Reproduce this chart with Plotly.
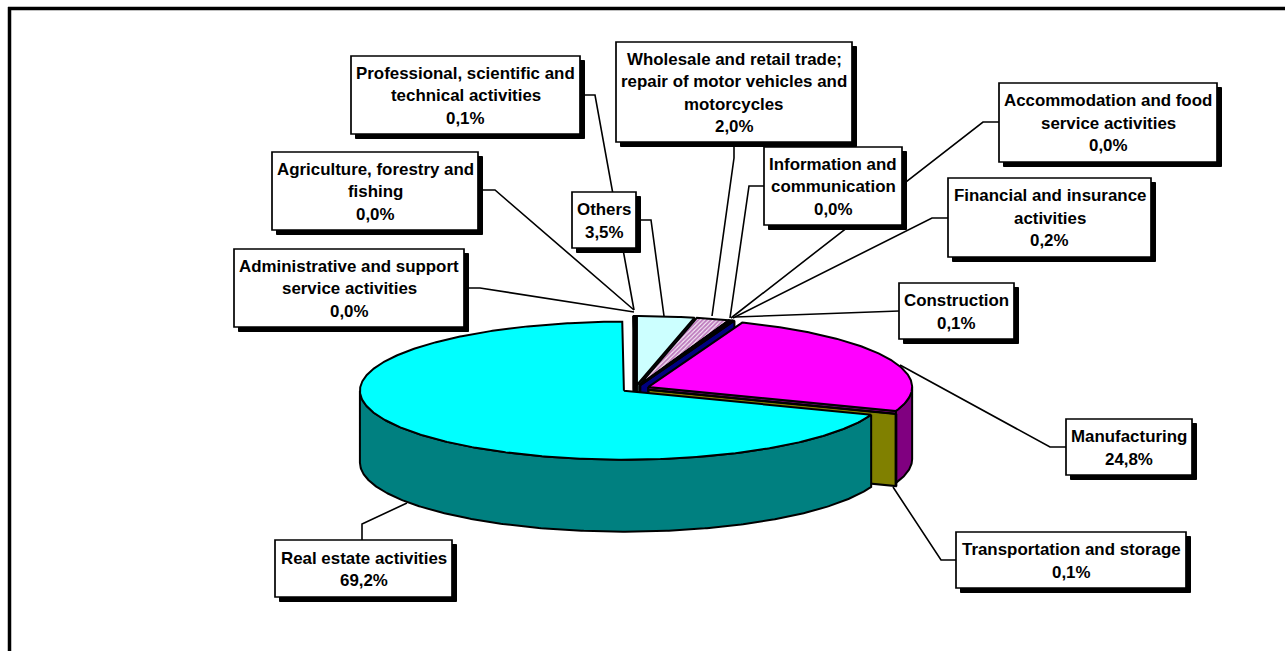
import math
import plotly.graph_objects as go

# ---- data (clockwise from 12 o'clock) ----
categories = ["Others", "Wholesale and retail trade; repair of motor vehicles and motorcycles",
              "Information and communication", "Accommodation and food service activities",
              "Financial and insurance activities", "Construction", "Manufacturing",
              "Transportation and storage", "Real estate activities",
              "Administrative and support service activities",
              "Agriculture, forestry and fishing",
              "Professional, scientific and technical activities"]
values = [3.5, 2.0, 0.0, 0.0, 0.2, 0.1, 24.8, 0.1, 69.2, 0.0, 0.0, 0.1]

label_lines = [["Others"],
               ["Wholesale and retail trade;", "repair of motor vehicles and", "motorcycles"],
               ["Information and", "communication"],
               ["Accommodation and food", "service activities"],
               ["Financial and insurance", "activities"],
               ["Construction"],
               ["Manufacturing"],
               ["Transportation and storage"],
               ["Real estate activities"],
               ["Administrative and support", "service activities"],
               ["Agriculture, forestry and", "fishing"],
               ["Professional, scientific and", "technical activities"]]

# ---- styles ----
top_colors = ["#CCFFFF", "#FFFFFF", "#000080", "#000080", "#000080", "#808080",
              "#FF00FF", "#808000", "#00FFFF", "#000080", "#000080", "#000080"]
side_colors = ["#669999", "#000080", "#000080", "#000080", "#000080", "#000080",
               "#800080", "#808000", "#008080", "#000040", "#000040", "#000040"]
hatched = {1}
draw_order = [0, 1, 2, 3, 4, 5, 6, 7, 11, 10, 9, 8]

# ---- geometry of the page ----
CX, CY, RX, RY, DEPTH = 635.4, 388.6, 264, 69, 72
EXPLODE_X, EXPLODE_Y = 14, 3.6
EDGE = 2
SHADOW = 4.5
LINE_H = 22.5
TEXT_DY = 0.8
FONT = dict(family="Liberation Sans, Arial, sans-serif", size=16.9, color="#000000")

# box left, top, right, bottom per category
boxes = [(572, 192, 636, 248), (616, 42, 852, 142), (764, 147, 902, 225),
         (999, 83, 1217, 162), (948, 178, 1151, 257), (899, 283, 1014, 339),
         (1066, 419, 1192, 475), (956, 532, 1186, 588), (275, 540, 452, 597),
         (234, 249, 464, 327), (272, 152, 478, 230), (351, 56, 580, 134)]
# leader polylines per category
leaders = [[(636, 220), (651, 220), (664, 316)],
           [(734, 142), (734, 158), (712, 316)],
           [(764, 186), (749, 186), (730, 318)],
           [(999, 122), (983, 122), (731, 318)],
           [(948, 218), (932, 218), (733, 318)],
           [(899, 311), (735, 317)],
           [(1066, 447), (1050, 447), (900, 365)],
           [(956, 560), (941, 560), (893, 487)],
           [(362, 540), (362, 524), (407, 503)],
           [(464, 288), (480, 288), (634, 312)],
           [(478, 190), (495, 190), (634, 310)],
           [(580, 95), (595, 95), (634, 310)]]

fig = go.Figure()


def poly(xs, ys, color, pattern=False):
    kw = dict(x=xs + xs[:1], y=ys + ys[:1], mode="lines", fill="toself",
              line=dict(color="#000000", width=EDGE), hoverinfo="skip", showlegend=False)
    if pattern:
        kw["fillpattern"] = dict(shape="/", fgcolor="#800080", bgcolor="#FFFFFF",
                                 size=3, solidity=0.7)
    else:
        kw["fillcolor"] = color
    fig.add_trace(go.Scatter(**kw))


# angular extents from the values
total = sum(values)
extents = []
acc = 0.0
for v in values:
    extents.append((acc / total * 360, (acc + v) / total * 360))
    acc += v


def rim(cx, cy, deg, drop=0):
    t = math.radians(deg)
    return cx + RX * math.sin(t), cy - RY * math.cos(t) + drop


for i in draw_order:
    s, e = extents[i]
    mid = math.radians((s + e) / 2)
    cx = CX + EXPLODE_X * math.sin(mid)
    cy = CY - EXPLODE_Y * math.cos(mid)
    # radial cut faces
    faces = []
    if 0 < e < 180:
        faces.append(e)
    if 180 < s < 360:
        faces.append(s)
    for a in faces:
        x1, y1 = rim(cx, cy, a)
        poly([cx, x1, x1, cx], [cy, y1, y1 + DEPTH, cy + DEPTH], side_colors[i])
    # outer wall
    a0, a1 = max(s, 90), min(e, 270)
    if a1 > a0:
        n = max(2, int((a1 - a0) * 2))
        angs = [a0 + (a1 - a0) * k / n for k in range(n + 1)]
        up = [rim(cx, cy, a) for a in angs]
        down = [rim(cx, cy, a, DEPTH) for a in reversed(angs)]
        pts = up + down
        poly([p[0] for p in pts], [p[1] for p in pts], side_colors[i])
    # top face
    n = max(1, int((e - s) * 2))
    pts = [(cx, cy)] + [rim(cx, cy, s + (e - s) * k / n) for k in range(n + 1)]
    poly([p[0] for p in pts], [p[1] for p in pts], top_colors[i], i in hatched)

# leaders
for pts in leaders:
    fig.add_trace(go.Scatter(x=[p[0] for p in pts], y=[p[1] for p in pts], mode="lines",
                             line=dict(color="#000000", width=1.6), hoverinfo="skip",
                             showlegend=False))

shapes = []
annotations = []
for lines, v, (l, t, r, b) in zip(label_lines, values, boxes):
    shapes.append(dict(type="rect", x0=l + SHADOW, y0=t + SHADOW, x1=r + SHADOW, y1=b + SHADOW,
                       fillcolor="#000000", line=dict(color="#000000", width=1), layer="above"))
    shapes.append(dict(type="rect", x0=l, y0=t, x1=r, y1=b, fillcolor="#FFFFFF",
                       line=dict(color="#000000", width=1.7), layer="above"))
    rows = lines + [f"{v:.1f}".replace(".", ",") + "%"]
    mid_y = (t + b) / 2 + TEXT_DY
    for k, row in enumerate(rows):
        annotations.append(dict(x=(l + r) / 2, y=mid_y + LINE_H * (k - (len(rows) - 1) / 2),
                                text=f"<b>{row}</b>", showarrow=False, font=FONT,
                                xanchor="center", yanchor="middle"))

# page frame: top and left only
shapes.append(dict(type="line", x0=8, y0=8.5, x1=1285, y1=8.5, line=dict(color="#000000", width=3.5), layer="above"))
shapes.append(dict(type="line", x0=9.5, y0=7, x1=9.5, y1=651, line=dict(color="#000000", width=3.5), layer="above"))

fig.update_layout(width=1285, height=651, margin=dict(l=0, r=0, t=0, b=0),
                  paper_bgcolor="#FFFFFF", plot_bgcolor="#FFFFFF", showlegend=False,
                  xaxis=dict(range=[0, 1285], visible=False, fixedrange=True),
                  yaxis=dict(range=[651, 0], visible=False, fixedrange=True),
                  shapes=shapes, annotations=annotations)

fig.write_html("out.html", config=dict(displayModeBar=False),
               post_script="document.body.style.margin='0';document.body.style.overflow='hidden';")
